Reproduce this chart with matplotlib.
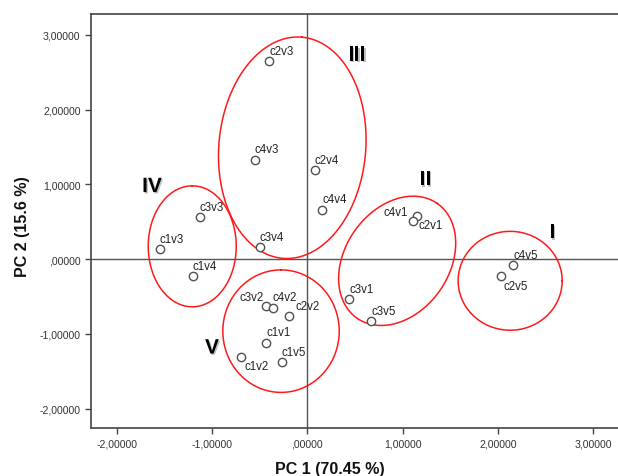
import numpy as np
import matplotlib
matplotlib.use("Agg")
import matplotlib.pyplot as plt
import matplotlib.ticker as mticker
import matplotlib.patheffects as pe

plt.rcParams["font.family"] = ["Liberation Sans", "DejaVu Sans"]

# PCA scores
labels = ["c2v3", "c4v3", "c3v3", "c2v4", "c4v4", "c4v1", "c2v1", "c1v3", "c3v4", "c1v4",
          "c3v2", "c4v2", "c2v2", "c1v1", "c1v2", "c1v5", "c3v1", "c3v5", "c4v5", "c2v5"]
pc1 = [-0.40, -0.55, -1.13, 0.08, 0.16, 1.15, 1.11, -1.55, -0.50, -1.20,
       -0.43, -0.36, -0.19, -0.43, -0.69, -0.27, 0.44, 0.67, 2.16, 2.03]
pc2 = [2.65, 1.33, 0.56, 1.19, 0.66, 0.58, 0.51, 0.13, 0.16, -0.23,
       -0.63, -0.65, -0.76, -1.12, -1.31, -1.38, -0.54, -0.83, -0.08, -0.23]

# cluster ellipses: name, centre, semi-axes (in PC1 units), angle (deg)
groups = ["I", "II", "III", "IV", "V"]
grp_cx = [2.13, 0.944, -0.157, -1.207, -0.275]
grp_cy = [-0.29, -0.023, 1.49, 0.171, -0.964]
grp_a = [0.546, 0.735, 1.165, 0.635, 0.643]
grp_b = [0.519, 0.546, 0.771, 0.462, 0.611]
grp_ang = [0, 55, 85, 90, 90]
grp_lx = [2.57, 1.24, 0.52, -1.63, -1.00]
grp_ly = [0.35, 1.06, 2.73, 0.97, -1.19]

# label offsets in pixels (default: above the point)
offsets = {"c4v1": (-9, 3.5, "right"), "c2v1": (6, -4.4, "left"), "c3v2": (-3, 9, "right"),
           "c2v2": (6.7, 10.3, "left"), "c1v2": (2.6, -9.4, "left"), "c2v5": (3.3, -10, "left")}

fig = plt.figure(figsize=(6.18, 4.77), dpi=100)
ax = fig.add_axes([0.1472, 0.1006, 0.8528, 0.868])
xlim = (-2.27, 3.262)
ylim = (-2.26, 3.28)
ax.set_xlim(*xlim)
ax.set_ylim(*ylim)

ax.axhline(0, color="#555555", lw=1.0, zorder=1)
ax.axvline(0, color="#555555", lw=1.0, zorder=1)

ax.plot(pc1, pc2, "o", ms=6, mfc="white", mec="#505050", mew=1.0, ls="none", zorder=3)
for name, x, y in zip(labels, pc1, pc2):
    dx, dy, ha = offsets.get(name, (0, 10.5, "left"))
    ax.annotate(name, (x, y), xytext=(dx, dy), textcoords="offset pixels",
                ha=ha, va="center", fontsize=8.3, color="#222222", zorder=4)

# aspect ratio (pixels per PC1 unit / pixels per PC2 unit) so rotation looks right
bb = ax.get_position()
w_px = bb.width * fig.get_figwidth() * fig.dpi
h_px = bb.height * fig.get_figheight() * fig.dpi
ratio = (w_px / (xlim[1] - xlim[0])) / (h_px / (ylim[1] - ylim[0]))

t = np.linspace(0, 2 * np.pi, 300)
for cx, cy, a, b, ang in zip(grp_cx, grp_cy, grp_a, grp_b, grp_ang):
    th = np.radians(ang)
    u = a * np.cos(t) * np.cos(th) - b * np.sin(t) * np.sin(th)
    v = a * np.cos(t) * np.sin(th) + b * np.sin(t) * np.cos(th)
    ax.plot(cx + u, cy + v * ratio, color="#ff1a1a", lw=1.1, zorder=2)

shadow = [pe.withSimplePatchShadow(offset=(1, -1), shadow_rgbFace="#999999", alpha=0.6)]
for g, x, y in zip(groups, grp_lx, grp_ly):
    ax.text(x, y, g, ha="center", va="center", fontsize=15, fontweight="bold",
            color="black", path_effects=shadow, zorder=5)

ax.set_xticks([-2, -1, 0, 1, 2, 3])
ax.set_yticks([-2, -1, 0, 1, 2, 3])


def fmt(v, _):
    s = f"{v:.5f}".replace(".", ",")
    return ",00000" if abs(v) < 1e-9 else s


ax.xaxis.set_major_formatter(mticker.FuncFormatter(fmt))
ax.yaxis.set_major_formatter(mticker.FuncFormatter(fmt))
ax.tick_params(direction="out", length=4, width=1, colors="#444444", labelsize=7.6,
               labelcolor="#333333", top=False, right=False)
for side in ["left", "bottom", "top"]:
    ax.spines[side].set_color("#444444")
    ax.spines[side].set_linewidth(1.2)
ax.spines["right"].set_visible(False)

ax.set_xlabel("PC 1 (70.45 %)", fontsize=11.5, fontweight="bold", color="#111111")
ax.set_ylabel("PC 2 (15.6 %)", fontsize=11.5, fontweight="bold", color="#111111")
ax.xaxis.set_label_coords(0.4535, -0.079)
ax.yaxis.set_label_coords(-0.115, 0.49)

fig.savefig("out.png", dpi=100, facecolor="white")
